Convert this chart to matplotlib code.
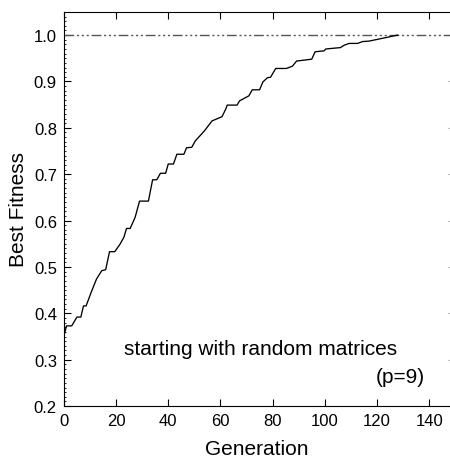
import matplotlib
matplotlib.use("Agg")
import matplotlib.pyplot as plt
from matplotlib.ticker import MultipleLocator

# best fitness per generation
generation = [0, 1, 3, 5, 6.5, 7.5, 8.5, 10.5, 12.5, 14.5, 16, 17.5, 19.5, 21.5, 23,
              24, 25.4, 27.3, 29, 32.4, 34, 35.6, 37, 39, 40, 42, 43.3, 46, 47, 49,
              50.4, 53.8, 56.8, 60.6, 62, 62.6, 66.4, 67.3, 70.9, 72.2, 75, 76.3,
              78, 79.2, 81.2, 85.3, 87.6, 89.2, 95, 96.3, 99.7, 100.4, 106, 107.4,
              109.3, 112.6, 114.5, 117, 128]
fitness = [0.351, 0.373, 0.373, 0.392, 0.392, 0.416, 0.416, 0.446, 0.474, 0.492, 0.494,
           0.533, 0.533, 0.549, 0.564, 0.583, 0.583, 0.607, 0.642, 0.642, 0.688, 0.688,
           0.702, 0.702, 0.722, 0.722, 0.743, 0.743, 0.757, 0.758, 0.772, 0.793, 0.815,
           0.824, 0.840, 0.849, 0.849, 0.858, 0.869, 0.882, 0.882, 0.899, 0.908, 0.909,
           0.928, 0.928, 0.933, 0.944, 0.948, 0.964, 0.966, 0.970, 0.973, 0.978, 0.982,
           0.982, 0.986, 0.987, 1.0]
optimum = 1.0
yticks = [0.2, 0.3, 0.4, 0.5, 0.6, 0.7, 0.8, 0.9, 1.0]
yticklabels = ['0.2', '0.3', '0.4', '0.5', '0.6', '0.7', '0.8', '0.9', '1.0']

plt.rcParams['font.family'] = ['Liberation Sans', 'DejaVu Sans']

fig = plt.figure(figsize=(4.5, 4.6), dpi=100)
ax = fig.add_axes([0.142, 0.115, 0.858, 0.857])

ax.axhline(optimum, color='#555555', lw=1.0, dashes=(7, 2, 1.5, 2, 1.5, 2, 1.5, 2))
ax.plot(generation, fitness, color='black', lw=0.95)

ax.set_xlim(0, 148)
ax.set_ylim(0.2, 1.05)
ax.set_xticks(range(0, 141, 20))
ax.set_yticks(yticks)
ax.set_yticklabels(yticklabels)
ax.yaxis.set_minor_locator(MultipleLocator(0.01))

ax.tick_params(which='major', direction='in', top=True, right=False, length=5,
               width=0.8, labelsize=12, pad=5)
ax.tick_params(which='minor', direction='in', left=True, right=False, length=1.2, width=0.6)
ax.tick_params(axis='x', which='minor', bottom=False, top=False)
ax.spines['right'].set_visible(False)

# faint right-hand ticks (right spine is cut off in the original)
right = ax.secondary_yaxis('right')
right.set_yticks(yticks)
right.tick_params(direction='in', length=1.5, width=0.8, color='#aaaaaa', labelright=False)
right.spines['right'].set_visible(False)

ax.set_xlabel('Generation', fontsize=15, labelpad=8)
ax.set_ylabel('Best Fitness', fontsize=15, labelpad=4)

ax.text(75.2, 0.312, 'starting with random matrices', fontsize=15,
        ha='center', va='baseline')
ax.text(138.5, 0.252, '(p=9)', fontsize=15, ha='right', va='baseline')

fig.savefig('out.png', dpi=100)
